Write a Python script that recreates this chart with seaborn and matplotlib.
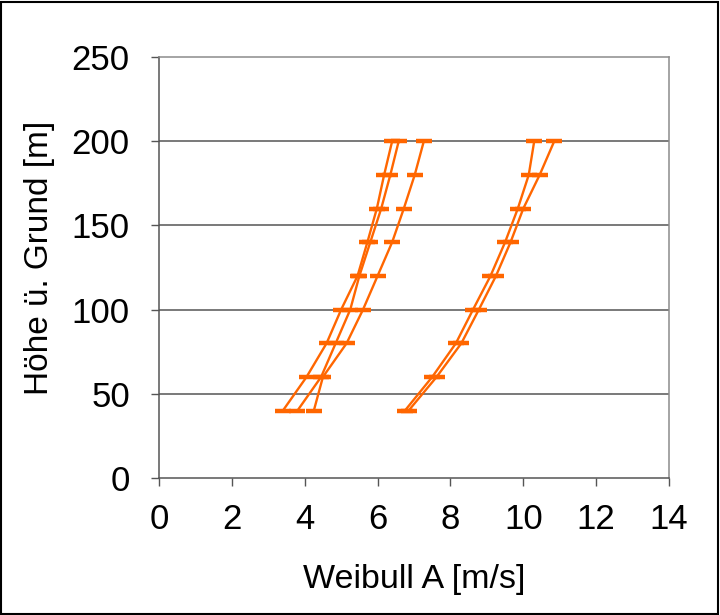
import matplotlib
matplotlib.use("Agg")
import matplotlib.pyplot as plt
from matplotlib.patches import Rectangle
import pandas as pd
import seaborn as sns

# Measurement heights above ground [m]
heights = [40, 60, 80, 100, 120, 140, 160, 180, 200]

# Weibull scale parameter A [m/s] per profile
profile_1 = [3.40, 4.05, 4.60, 5.00, 5.45, 5.72, 5.98, 6.18, 6.40]
profile_2 = [3.80, 4.45, 4.85, 5.25, 5.50, 5.80, 6.10, 6.35, 6.58]
profile_3 = [4.25, 4.50, 5.15, 5.60, 6.00, 6.40, 6.72, 7.02, 7.27]
profile_4 = [6.75, 7.50, 8.15, 8.62, 9.10, 9.50, 9.85, 10.15, 10.30]
profile_5 = [6.85, 7.62, 8.30, 8.78, 9.25, 9.65, 10.00, 10.45, 10.85]

profiles = {
    "P1": profile_1,
    "P2": profile_2,
    "P3": profile_3,
    "P4": profile_4,
    "P5": profile_5,
}

x_ticks = [0, 2, 4, 6, 8, 10, 12, 14]
y_ticks = [0, 50, 100, 150, 200, 250]

frames = []
for name, values in profiles.items():
    frames.append(pd.DataFrame({"profile": name, "A": values, "h": heights}))
df = pd.concat(frames, ignore_index=True)

sns.set_theme(style="white")
plt.rcParams["font.family"] = ["Liberation Sans", "DejaVu Sans"]

fig = plt.figure(figsize=(7.2, 6.15), dpi=100)
ax = fig.add_axes([159 / 720, 1 - 478 / 615, (669 - 159) / 720, (478 - 57) / 615])

orange = "#FF6600"
for name in profiles:
    sub = df[df["profile"] == name]
    sns.lineplot(data=sub, x="A", y="h", ax=ax, sort=False, estimator=None,
                 color=orange, linewidth=1.7, marker="_", markersize=11,
                 markeredgewidth=3.2, markeredgecolor=orange, legend=False)

ax.set_xlim(0, 14)
ax.set_ylim(0, 250)
ax.set_xticks(x_ticks)
ax.set_yticks(y_ticks)

# horizontal gridlines only
for y in y_ticks[1:-1]:
    ax.axhline(y, color="#555555", linewidth=1.1, zorder=0)

for side in ["top", "right"]:
    ax.spines[side].set_color("#8c8c8c")
    ax.spines[side].set_linewidth(1.1)
for side in ["left", "bottom"]:
    ax.spines[side].set_color("#555555")
    ax.spines[side].set_linewidth(1.1)

ax.tick_params(axis="both", which="major", direction="out", length=6,
               width=1.0, color="#555555", labelsize=25, labelcolor="black",
               bottom=True, left=True)
ax.tick_params(axis="x", pad=12)
ax.tick_params(axis="y", pad=15)

ax.set_xlabel("Weibull A [m/s]", fontsize=24.5, color="black", labelpad=20)
ax.set_ylabel("Höhe ü. Grund [m]", fontsize=24, color="black", labelpad=12)
ax.yaxis.label.set_y(0.523)

fig.patches.append(Rectangle((0.002, 0.002), 0.995, 0.995, transform=fig.transFigure,
                             fill=False, edgecolor="black", linewidth=1.5))

fig.savefig("out.png", dpi=100, facecolor="white")
